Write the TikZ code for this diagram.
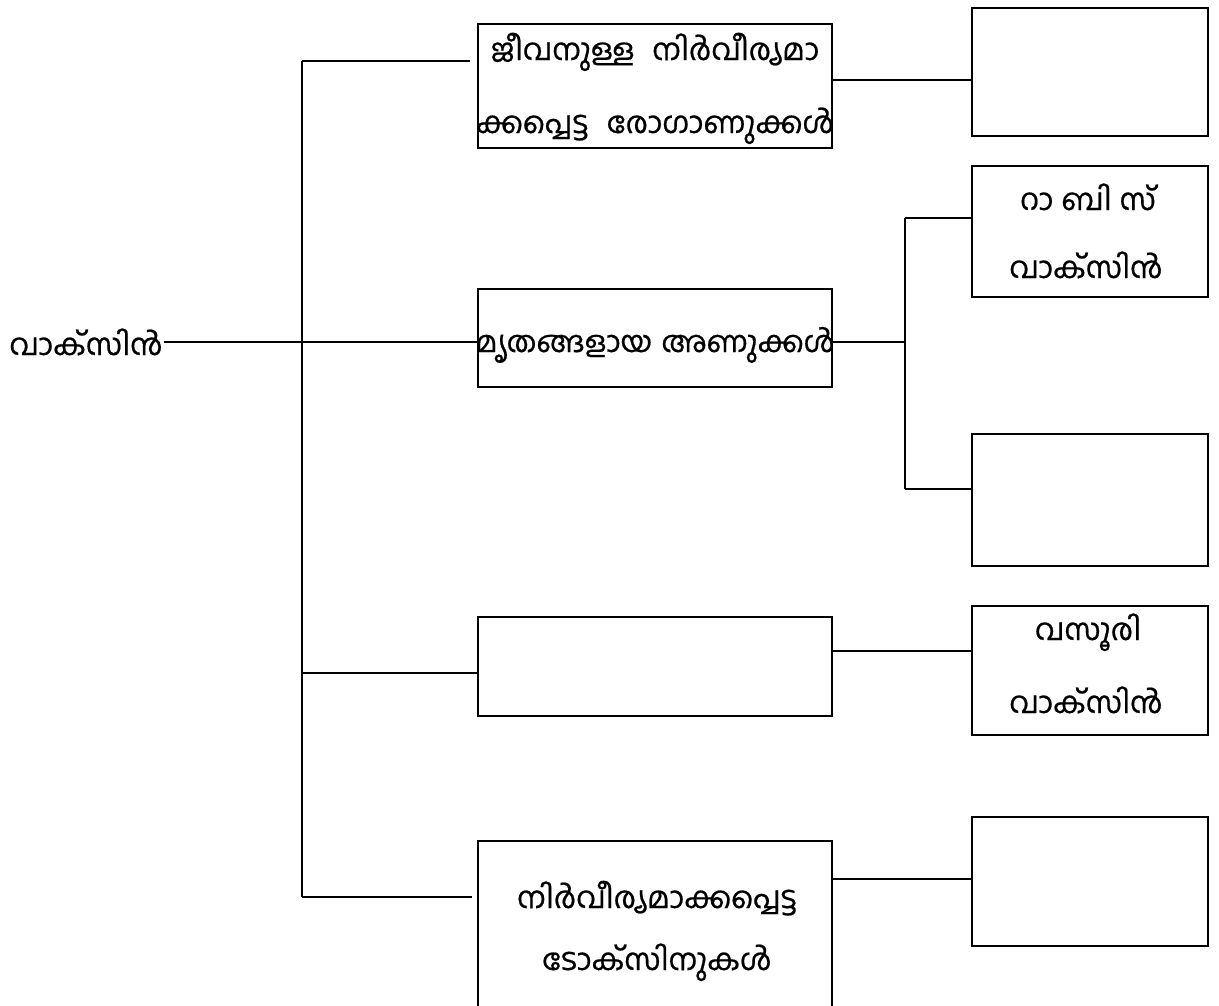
\documentclass[tikz,border=0pt]{standalone}
\usepackage{fontspec}
\newfontfamily\mlfont[Script=Malayalam,FakeBold=0.6]{Hind Kochi}
\begin{document}
\begin{tikzpicture}[x=1pt,y=-1pt,line width=2.8pt,
  box/.style={draw,rectangle,line width=2.8pt,inner sep=0pt},
  lbl/.style={font=\mlfont\fontsize{30}{36}\selectfont,inner sep=0pt}]
\useasboundingbox (0,0) rectangle (1219,1005);
\clip (0,0) rectangle (1219,1005);

% middle column
\node[box,minimum width=354pt,minimum height=124pt] (b1) at (655,86) {};
\node[box,minimum width=354pt,minimum height=98pt]  (b2) at (655,338) {};
\node[box,minimum width=354pt,minimum height=99pt]  (b3) at (655,666.5) {};
\node[box,minimum width=354pt,minimum height=200pt] (b4) at (655,941) {};

% right column
\node[box,minimum width=236pt,minimum height=128pt] (r1) at (1090,72) {};
\node[box,minimum width=236pt,minimum height=131pt] (r2) at (1090,231.5) {};
\node[box,minimum width=236pt,minimum height=132pt] (r3) at (1090,500) {};
\node[box,minimum width=236pt,minimum height=129pt] (r4) at (1090,670.5) {};
\node[box,minimum width=236pt,minimum height=129pt] (r5) at (1090,881.5) {};

% labels
\node[lbl,anchor=base west] (root) at (8,355) {വാക്സിൻ};
\node[lbl,anchor=base] (t1a) at (655,60) {ജീവനുള്ള\hspace{10pt} നിർവീര്യമാ};
\node[lbl,anchor=base] (t1b) at (655,133) {ക്കപ്പെട്ട\hspace{11pt} രോഗാണുക്കൾ};
\node[lbl,anchor=base] (t2) at (655,352) {\fontsize{29.4}{36}\selectfont മൃതങ്ങളായ\hspace{2pt} അണുക്കൾ};
\node[lbl,anchor=base] (t4a) at (657,908) {നിർവീര്യമാക്കപ്പെട്ട};
\node[lbl,anchor=base] (t4b) at (657,970) {ടോക്സിനുകൾ};
\node[lbl,anchor=base] (tr2a) at (1088,210) {റാ\hspace{8pt}ബി\hspace{8pt}സ്};
\node[lbl,anchor=base] (tr2b) at (1086,278) {വാക്സിൻ};
\node[lbl,anchor=base] (tr4a) at (1088,640) {വസൂരി};
\node[lbl,anchor=base] (tr4b) at (1086,713) {വാക്സിൻ};

% junction points
\coordinate (tTop) at (302,61);
\coordinate (tMid) at (302,342);
\coordinate (tB3) at (302,673);
\coordinate (tBot) at (302,897);
\coordinate (e1) at (470,61);
\coordinate (e4) at (472,897);
\coordinate (s2) at (905,342);
\coordinate (s2top) at (905,218);
\coordinate (s2bot) at (905,489);

% trunk
\draw (tTop) -- (tBot);
\draw (tTop) -- (e1);
\draw (root.east |- tMid) -- (tMid -| b2.west);
\draw (tB3) -- (tB3 -| b3.west);
\draw (tBot) -- (e4);

% branches to the right column
\draw (b1.east |- 0,80) -- (r1.west |- 0,80);
\draw (b2.east |- s2) -- (s2);
\draw (s2top) -- (s2bot);
\draw (s2top) -- (s2top -| r2.west);
\draw (s2bot) -- (s2bot -| r3.west);
\draw (b3.east |- 0,651) -- (r4.west |- 0,651);
\draw (b4.east |- 0,879) -- (r5.west |- 0,879);
\end{tikzpicture}
\end{document}
